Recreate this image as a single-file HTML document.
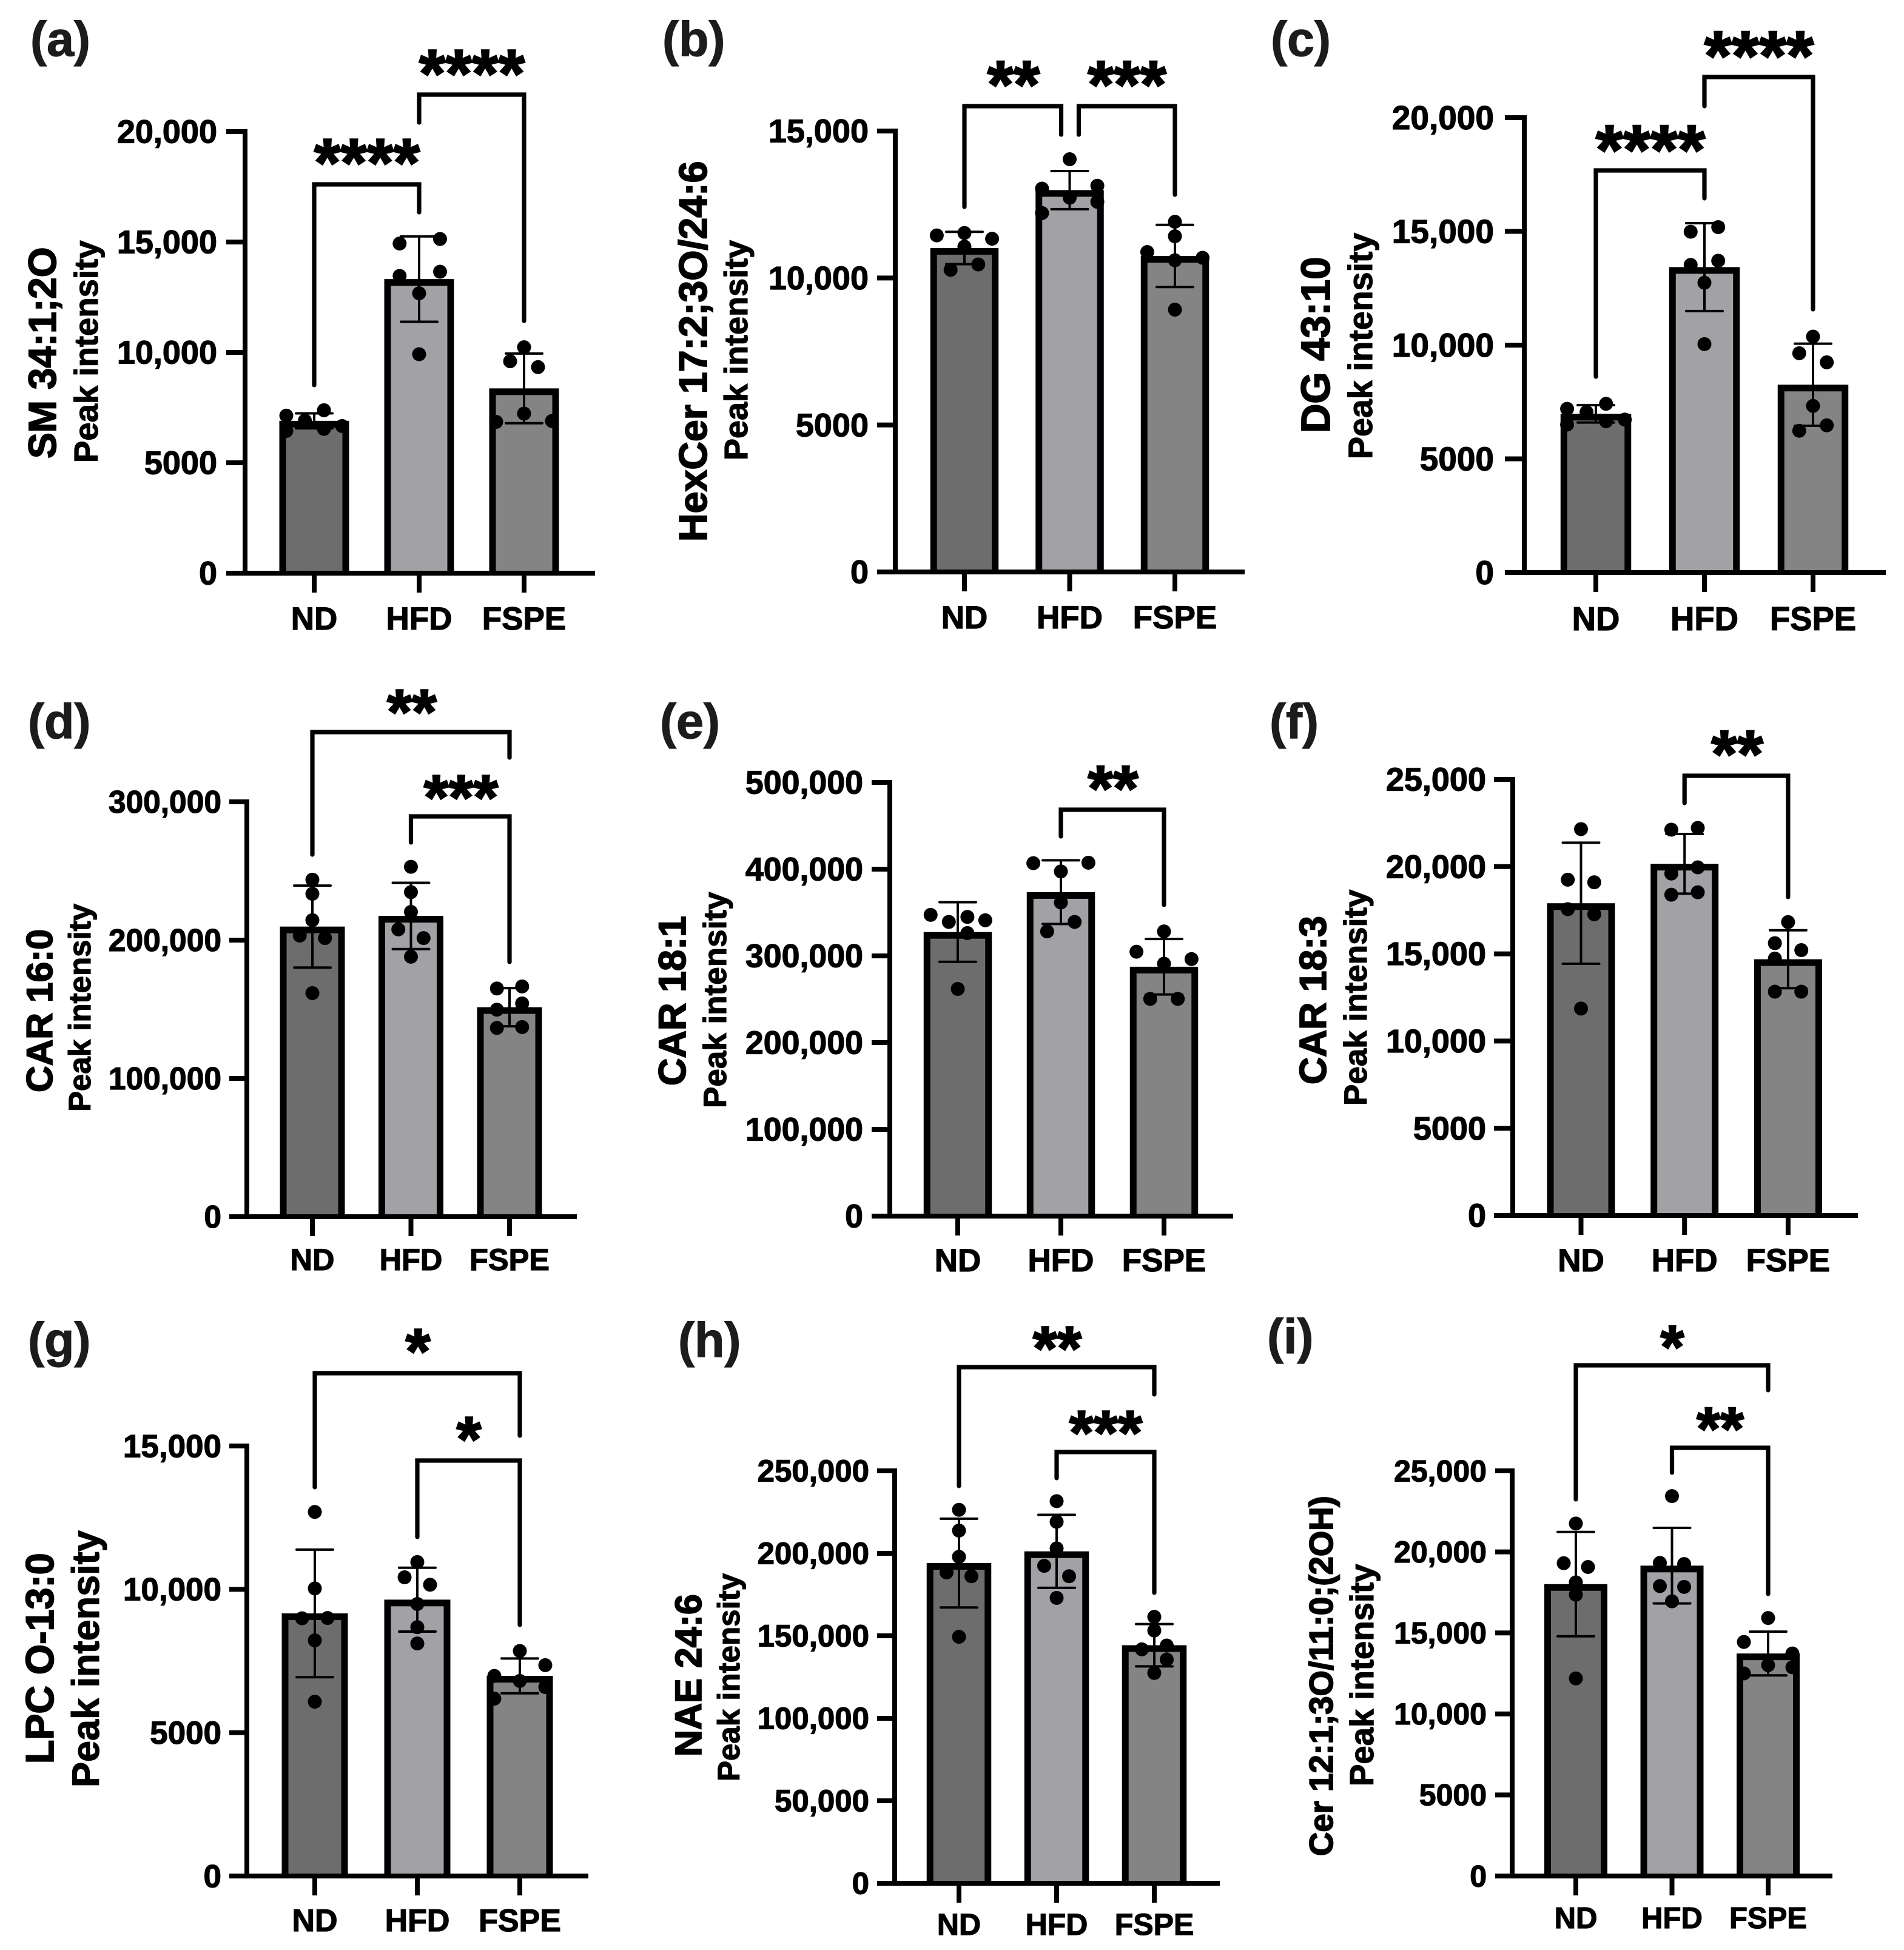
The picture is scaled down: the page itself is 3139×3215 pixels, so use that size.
<!DOCTYPE html>
<html lang="en">
<head>
<meta charset="utf-8">
<title>Peak intensity bar charts</title>
<style>
html,body{margin:0;padding:0;background:#fff;}
svg{display:block;}
text{font-family:"Liberation Sans",Arial,sans-serif;font-weight:bold;fill:#000;stroke:#000;stroke-width:1.2px;}
</style>
</head>
<body>
<svg id="figure" xmlns="http://www.w3.org/2000/svg" width="3139" height="3215" viewBox="0 0 3139 3215"></svg>
<script>
const categories = ['ND', 'HFD', 'FSPE'];
const barColors = ['#6d6d6e', '#a2a2a6', '#848484'];

/* panel a */
const aTicks = [0, 5000, 10000, 15000, 20000];
const aMeans = [6900, 13320, 8370];
const aSds = [340, 1934, 1577];
const aDotsND = [7136, 6911, 7380, 6667, 6442, 6535];
const aDotsHFD = [15137, 14930, 13653, 13465, 12677, 9916];
const aDotsFSPE = [10235, 9597, 9334, 7230, 6855, 6892];
const aSlotsND = [-2, -0.67, 0.7, 2, -2, 0.7];
const aSlotsHFD = [1.5, -1.4, 1.5, -1.4, 0, 0];
const aSlotsFSPE = [0, -1, 1, 0, -2, 2];

/* panel b */
const bTicks = [0, 5000, 10000, 15000];
const bMeans = [11020, 12990, 10750];
const bSds = [550, 649, 1057];
const bDotsND = [11448, 11532, 11335, 11067, 10278, 10461];
const bDotsHFD = [14041, 13041, 13139, 12731, 12209, 12590];
const bDotsFSPE = [11913, 11419, 10884, 10687, 10602, 8924];
const bSlotsND = [-2, 0, 2, 0, -1, 1];
const bSlotsHFD = [0, -2, 2, 0, -2, 2];
const bSlotsFSPE = [0, 0, -2, 2, 0, 0];

/* panel c */
const cTicks = [0, 5000, 10000, 15000, 20000];
const cMeans = [6980, 13430, 8260];
const cSds = [383, 1932, 1805];
const cDotsND = [7201, 7055, 7420, 6727, 6508, 6654];
const cDotsHFD = [15186, 14985, 13709, 13527, 12743, 10045];
const cDotsFSPE = [10373, 9644, 9243, 7328, 6472, 6235];
const cSlotsND = [-2.09, -0.68, 0.74, 2.1, -2.09, 0.74];
const cSlotsHFD = [1, -1, 1, -1, 0, 0];
const cSlotsFSPE = [0, -1, 1, 0, 1, -1];

/* panel d */
const dTicks = [0, 100000, 200000, 300000];
const dMeans = [209800, 217500, 151500];
const dSds = [29640, 23950, 13800];
const dDotsND = [243700, 233500, 214400, 203300, 201500, 161700];
const dDotsHFD = [253000, 234700, 220400, 207800, 201500, 188000];
const dDotsFSPE = [165000, 166500, 154200, 149700, 136500, 137100];
const dSlotsND = [0, 0, 0, -1, 1, 0];
const dSlotsHFD = [0, 0, 0, -1, 1, 0];
const dSlotsFSPE = [-1, 1, 1, -1, -1, 1];

/* panel e */
const eTicks = [0, 100000, 200000, 300000, 400000, 500000];
const eMeans = [327500, 373500, 287500];
const eSds = [34350, 36730, 31960];
const eDotsND = [347300, 339200, 344900, 341100, 326300, 261900];
const eDotsHFD = [406900, 407400, 397400, 361600, 339200, 328200];
const eDotsFSPE = [328200, 304800, 296300, 291000, 250400, 250400];
const eSlotsND = [-1.97, -0.65, 0.7, 2, 0.7, 0];
const eSlotsHFD = [-2, 2, 0, 0, 1, -1];
const eSlotsFSPE = [0, -2, 2, 0, -1, 1];

/* panel f */
const fTicks = [0, 5000, 10000, 15000, 20000, 25000];
const fMeans = [17900, 20160, 14690];
const fSds = [3470, 1710, 1660];
const fDotsND = [22150, 19250, 19100, 17560, 17270, 11860];
const fDotsHFD = [22220, 22120, 19960, 19600, 18530, 18390];
const fDotsFSPE = [16820, 15610, 15210, 14730, 12830, 12830];
const fSlotsND = [0, -1, 1, -1, 1, 0];
const fSlotsHFD = [1, -1, 1, -1, 1, -1];
const fSlotsFSPE = [0, -1, 1, -1, -1, 1];

/* panel g */
const gTicks = [0, 5000, 10000, 15000];
const gMeans = [9160, 9640, 6980];
const gSds = [2225, 1113, 607];
const gDotsND = [12700, 10030, 8990, 9000, 8220, 6080];
const gDotsHFD = [10950, 10420, 10160, 9490, 8680, 8110];
const gDotsFSPE = [7850, 7355, 6980, 6805, 6590, 6185];
const gSlotsND = [0, 0, -1, 1, 0, 0];
const gSlotsHFD = [0, -1, 1, 0, 0, 0];
const gSlotsFSPE = [0, 2, -2, 0, 2, -2];

/* panel h */
const hTicks = [0, 50000, 100000, 150000, 200000, 250000];
const hMeans = [194100, 201200, 144300];
const hSds = [26900, 22130, 12830];
const hDotsND = [226400, 213800, 197900, 188400, 186100, 149400];
const hDotsHFD = [231600, 219100, 203000, 192400, 186100, 173000];
const hDotsFSPE = [161500, 153200, 144100, 141800, 135600, 127500];
const hSlotsND = [0, 0, 0, -1, 1, 0];
const hSlotsHFD = [0, 0, 0, -1, 1, 0];
const hSlotsFSPE = [0, 0, 1, -1, 1, 0];

/* panel i */
const iTicks = [0, 5000, 10000, 15000, 20000, 25000];
const iMeans = [18010, 19150, 13730];
const iSds = [3220, 2330, 1350];
const iDotsND = [21750, 19300, 19070, 18120, 17360, 12190];
const iDotsHFD = [23440, 19320, 19250, 17890, 17840, 16950];
const iDotsFSPE = [15920, 14440, 13730, 13010, 12880, 12500];
const iSlotsND = [0, -1, 1, 0, 0, 0];
const iSlotsHFD = [0, -1, 1, -1, 1, 0];
const iSlotsFSPE = [0, -2, 2, 0, 2, -2];

const panels = [
 {id:'a',letter:'(a)',lx:50,ly:92,ticks:aTicks,means:aMeans,sds:aSds,dots:[aDotsND,aDotsHFD,aDotsFSPE],slots:[aSlotsND,aSlotsHFD,aSlotsFSPE],
  axisX:404,y0:945,yTop:217,tickLeft:373,xEnd:981,cx0:518,step:173,barW:115,unit:23,tickFs:54,tickRight:358,xFs:53,xBase:1038,
  title:'SM 34:1;2O',tx:92,ty:756,tfs:64,sx:161,sy:763,sfs:54.5,starFs:112,
  brackets:[{a:0,b:1,top:304,e1:635,e2:350,stars:'****',lx:605,ly:251},{a:1,b:2,top:156,e1:202,e2:529,stars:'****',lx:778,ly:104}]},
 {id:'b',letter:'(b)',lx:1092,ly:92,ticks:bTicks,means:bMeans,sds:bSds,dots:[bDotsND,bDotsHFD,bDotsFSPE],slots:[bSlotsND,bSlotsHFD,bSlotsFSPE],
  axisX:1476,y0:943,yTop:216,tickLeft:1446,xEnd:2052,cx0:1590,step:173.5,barW:112.5,unit:22.8,tickFs:54,tickRight:1432,xFs:53,xBase:1036,
  title:'HexCer 17:2;3O/24:6',tx:1165,ty:893,tfs:64.5,sx:1232,sy:759,sfs:54,starFs:111,
  brackets:[{a:0,b:1,d2:-14,top:175,e1:341,e2:222,stars:'**',lx:1671,ly:122},{a:1,b:2,d1:15,top:175,e1:222,e2:321,stars:'***',lx:1858,ly:122}]},
 {id:'c',letter:'(c)',lx:2095,ly:92,ticks:cTicks,means:cMeans,sds:cSds,dots:[cDotsND,cDotsHFD,cDotsFSPE],slots:[cSlotsND,cSlotsHFD,cSlotsFSPE],
  axisX:2513,y0:944,yTop:194,tickLeft:2481,xEnd:3109,cx0:2631,step:179,barW:116.5,unit:22.7,tickFs:55,tickRight:2463,xFs:54.5,xBase:1039,
  title:'DG 43:10',tx:2192,ty:714,tfs:67,sx:2262,sy:757,sfs:55.5,starFs:116,
  brackets:[{a:0,b:1,top:281,e1:621,e2:327,stars:'****',lx:2721,ly:229},{a:1,b:2,top:127,e1:175,e2:510,stars:'****',lx:2900,ly:74}]},
 {id:'d',letter:'(d)',lx:46,ly:1217,ticks:dTicks,means:dMeans,sds:dSds,dots:[dDotsND,dDotsHFD,dDotsFSPE],slots:[dSlotsND,dSlotsHFD,dSlotsFSPE],
  axisX:407,y0:2006,yTop:1322,tickLeft:378,xEnd:951,cx0:515,step:162.5,barW:107,unit:20.8,tickFs:51.5,tickRight:365,xFs:50.5,xBase:2094,
  title:'CAR 16:0',tx:86,ty:1801,tfs:60.5,sx:149,sy:1833,sfs:51,starFs:105,
  brackets:[{a:0,b:2,top:1207,e1:1409,e2:1249,stars:'**',lx:679,ly:1157},{a:1,b:2,top:1346,e1:1389,e2:1586,stars:'***',lx:760,ly:1298}]},
 {id:'e',letter:'(e)',lx:1088,ly:1217,ticks:eTicks,means:eMeans,sds:eSds,dots:[eDotsND,eDotsHFD,eDotsFSPE],slots:[eSlotsND,eSlotsHFD,eSlotsFSPE],
  axisX:1467,y0:2005,yTop:1290,tickLeft:1437,xEnd:2033,cx0:1579,step:170,barW:112.5,unit:22.7,tickFs:53.7,tickRight:1423,xFs:53,xBase:2096,
  title:'CAR 18:1',tx:1130,ty:1790,tfs:63,sx:1197,sy:1827,sfs:53,starFs:107,
  brackets:[{a:1,b:2,top:1335,e1:1379,e2:1492,stars:'**',lx:1835,ly:1283}]},
 {id:'f',letter:'(f)',lx:2093,ly:1217,ticks:fTicks,means:fMeans,sds:fSds,dots:[fDotsND,fDotsHFD,fDotsFSPE],slots:[fSlotsND,fSlotsHFD,fSlotsFSPE],
  axisX:2494,y0:2004,yTop:1285,tickLeft:2463,xEnd:3063,cx0:2606.5,step:170.7,barW:112,unit:21.8,tickFs:54,tickRight:2450,xFs:53,xBase:2096,
  title:'CAR 18:3',tx:2186,ty:1788,tfs:62.5,sx:2253,sy:1823,sfs:53,starFs:110,
  brackets:[{a:1,b:2,top:1279,e1:1324,e2:1479,stars:'**',lx:2864,ly:1226}]},
 {id:'g',letter:'(g)',lx:46,ly:2237,ticks:gTicks,means:gMeans,sds:gSds,dots:[gDotsND,gDotsHFD,gDotsFSPE],slots:[gSlotsND,gSlotsHFD,gSlotsFSPE],
  axisX:407,y0:3093,yTop:2384,tickLeft:378,xEnd:970,cx0:519,step:169,barW:109,unit:21,tickFs:53,tickRight:365,xFs:52,xBase:3184,
  title:'LPC O-13:0',tx:88,ty:2908,tfs:64.5,sx:163,sy:2947,sfs:63,starFs:105,
  brackets:[{a:0,b:2,top:2264,e1:2452,e2:2367,stars:'*',lx:689,ly:2211},{a:1,b:2,top:2408,e1:2534,e2:2679,stars:'*',lx:773,ly:2356}]},
 {id:'h',letter:'(h)',lx:1118,ly:2237,ticks:hTicks,means:hMeans,sds:hSds,dots:[hDotsND,hDotsHFD,hDotsFSPE],slots:[hSlotsND,hSlotsHFD,hSlotsFSPE],
  axisX:1475,y0:3105,yTop:2425,tickLeft:1446,xEnd:2011,cx0:1581,step:161,barW:106.5,unit:20.5,tickFs:51,tickRight:1433,xFs:50,xBase:3190,
  title:'NAE 24:6',tx:1156,ty:2896,tfs:61,sx:1219,sy:2937,sfs:51,starFs:103,
  brackets:[{a:0,b:2,top:2254,e1:2450,e2:2299,stars:'**',lx:1743,ly:2207},{a:1,b:2,top:2394,e1:2437,e2:2626,stars:'***',lx:1823,ly:2346}]},
 {id:'i',letter:'(i)',lx:2089,ly:2231,ticks:iTicks,means:iMeans,sds:iSds,dots:[iDotsND,iDotsHFD,iDotsFSPE],slots:[iSlotsND,iSlotsHFD,iSlotsFSPE],
  axisX:2493,y0:3093,yTop:2425,tickLeft:2465,xEnd:3021,cx0:2598,step:158.5,barW:104,unit:20,tickFs:50,tickRight:2451,xFs:49,xBase:3179,
  title:'Cer 12:1;3O/11:0;(2OH)',tx:2197,ty:3060,tfs:54.5,sx:2264,sy:2945,sfs:54.5,starFs:100,
  brackets:[{a:0,b:2,top:2251,e1:2472,e2:2292,stars:'*',lx:2757,ly:2205},{a:1,b:2,top:2387,e1:2428,e2:2628,stars:'**',lx:2836,ly:2340}]}
];

const NS = 'http://www.w3.org/2000/svg';
const fig = document.getElementById('figure');
const BORDER = 11, AXIS_W = 8, BRACKET_W = 7.2, ERR_W = 4, CAP_HALF = 30, DOT_R = 11.5, TICK_LEN = 32;

function mk(parent, tag, props, content) {
  const el = document.createElementNS(NS, tag);
  for (const k in props) el.setAttribute(k, props[k]);
  if (content !== undefined) el.textContent = content;
  parent.appendChild(el);
  return el;
}
function fmtTick(v) {
  return v < 10000 ? String(v) : String(v).replace(/\B(?=(\d{3})+$)/g, ',');
}

panels.forEach(function (p) {
  const yScale = function (v) {
    const max = p.ticks[p.ticks.length - 1];
    return p.y0 - v / max * (p.y0 - p.yTop);
  };
  const xScale = function (i) { return p.cx0 + i * p.step; };

  const g = mk(fig, 'g', {});
  
  

  const letter = mk(g, 'text', {x: p.lx, y: p.ly, 'font-size': 81, style: 'fill:#1c1c1c;stroke:#1c1c1c'}, p.letter);
  
  

  const title = mk(g, 'text', {transform: 'translate(' + p.tx + ',' + p.ty + ') rotate(-90)', 'font-size': p.tfs, style: 'stroke-width:1.8px'}, p.title);
  
  

  const sub = mk(g, 'text', {transform: 'translate(' + p.sx + ',' + p.sy + ') rotate(-90)', 'font-size': p.sfs}, 'Peak intensity');
  
  

  /* bars */
  categories.forEach(function (cat, i) {
    const c = xScale(i), top = yScale(p.means[i]), w = p.barW;
    const outer = mk(g, 'rect', {x: c - w / 2, y: top, width: w, height: p.y0 - top, fill: '#000'});
    
    
    const inner = mk(g, 'rect', {x: c - w / 2 + BORDER, y: top + BORDER, width: w - 2 * BORDER, height: Math.max(0, p.y0 - top - BORDER), fill: barColors[i]});
    
    
  });

  /* axes */
  const yAxis = mk(g, 'line', {x1: p.axisX, x2: p.axisX, y1: p.yTop - AXIS_W / 2, y2: p.y0, stroke: '#000', 'stroke-width': AXIS_W});
  
  
  const xAxis = mk(g, 'line', {x1: p.tickLeft, x2: p.xEnd, y1: p.y0, y2: p.y0, stroke: '#000', 'stroke-width': AXIS_W});
  
  

  p.ticks.forEach(function (v) {
    const y = yScale(v);
    const tick = mk(g, 'line', {x1: p.tickLeft, x2: p.axisX, y1: y, y2: y, stroke: '#000', 'stroke-width': AXIS_W});
    
    
    const label = mk(g, 'text', {x: p.tickRight, y: y + p.tickFs * 0.345, 'font-size': p.tickFs, 'text-anchor': 'end'}, fmtTick(v));
    
    
  });

  categories.forEach(function (cat, i) {
    const c = xScale(i);
    const tick = mk(g, 'line', {x1: c, x2: c, y1: p.y0, y2: p.y0 + TICK_LEN, stroke: '#000', 'stroke-width': AXIS_W});
    
    
    const label = mk(g, 'text', {x: c, y: p.xBase, 'font-size': p.xFs, 'text-anchor': 'middle'}, cat);
    
    
  });

  /* error bars and dots */
  categories.forEach(function (cat, i) {
    const c = xScale(i);
    const hi = yScale(p.means[i] + p.sds[i]), lo = yScale(p.means[i] - p.sds[i]);
    const err = mk(g, 'path', {
      d: 'M' + c + ' ' + hi + 'V' + lo + 'M' + (c - CAP_HALF) + ' ' + hi + 'H' + (c + CAP_HALF) + 'M' + (c - CAP_HALF) + ' ' + lo + 'H' + (c + CAP_HALF),
      fill: 'none', stroke: '#000', 'stroke-width': ERR_W, 'stroke-linecap': 'round'
    });
    
    
    p.dots[i].forEach(function (v, j) {
      const dot = mk(g, 'circle', {cx: c + p.slots[i][j] * p.unit, cy: yScale(v), r: DOT_R, fill: '#000'});
      
      
    });
  });

  /* significance brackets */
  p.brackets.forEach(function (b) {
    const x1 = xScale(b.a) + (b.d1 || 0), x2 = xScale(b.b) + (b.d2 || 0);
    const path = mk(g, 'path', {
      d: 'M' + x1 + ' ' + b.e1 + 'V' + b.top + 'H' + x2 + 'V' + b.e2,
      fill: 'none', stroke: '#000', 'stroke-width': BRACKET_W, 'stroke-linecap': 'round', 'stroke-linejoin': 'miter'
    });
    
    
    const stars = mk(g, 'text', {x: b.lx, y: b.ly + p.starFs * 0.5, 'font-size': p.starFs, 'text-anchor': 'middle', style: 'stroke-width:2.5px'}, b.stars);
    
    
  });
});
</script>
</body>
</html>
